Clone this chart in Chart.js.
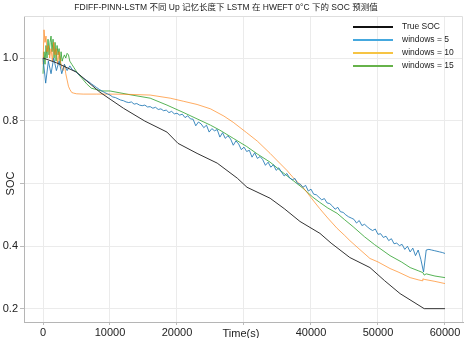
<!DOCTYPE html>
<html>
<head>
<meta charset="utf-8">
<script src="https://cdn.jsdelivr.net/npm/chart.js@4.4.1/dist/chart.umd.min.js"></script>
<style>
  html, body { margin: 0; padding: 0; background: #fff; }
</style>
</head>
<body>
<canvas id="c" width="469" height="338"></canvas>
<script>
const FONT = '"Liberation Sans", Arial, "Noto Sans CJK SC", sans-serif';
const TITLE = 'FDIFF-PINN-LSTM 不同 Up 记忆长度下 LSTM 在 HWEFT 0°C 下的 SOC 预测值';
const X_TITLE = 'Time(s)';
const Y_TITLE = 'SOC';

// tick labels
const xTicks = [0, 10000, 20000, 30000, 40000, 50000, 60000];
const yTicks = [0.2, 0.4, 0.6, 0.8, 1.0];

const labels = ['True SOC', 'windows = 5', 'windows = 10', 'windows = 15'];

// True SOC
const trueTime = [0, 2000, 5000, 8500, 12000, 15200, 18500, 20150, 23000, 26000, 29000, 30450,
  33900, 36000, 38360, 41340, 43000, 45800, 48800, 51000, 53300, 56900, 60000];
const trueSoc = [1.0, 0.985, 0.955, 0.891, 0.84, 0.799, 0.764, 0.728, 0.696, 0.665, 0.617, 0.588,
  0.553, 0.52, 0.479, 0.441, 0.41, 0.364, 0.332, 0.29, 0.249, 0.201, 0.201];

// windows = 5 (sampled every 400 s)
const w5Time = Array.from({ length: 151 }, (_, i) => i * 400);
const w5Soc = [
  1.0, 0.92, 0.99, 0.95, 1.0, 0.96, 0.99, 0.95, 0.98, 0.96,
  0.975, 0.962, 0.958, 0.95, 0.944, 0.936, 0.93, 0.925, 0.918, 0.912,
  0.906, 0.9, 0.895, 0.89, 0.886, 0.882, 0.876, 0.874, 0.87, 0.866,
  0.864, 0.86, 0.858, 0.86, 0.853, 0.855, 0.85, 0.848, 0.85, 0.844,
  0.845, 0.84, 0.843, 0.836, 0.838, 0.832, 0.834, 0.826, 0.83, 0.822,
  0.824, 0.818, 0.821, 0.81, 0.816, 0.806, 0.805, 0.784, 0.796, 0.79,
  0.778, 0.786, 0.764, 0.775, 0.768, 0.772, 0.748, 0.762, 0.744, 0.752,
  0.742, 0.722, 0.736, 0.726, 0.708, 0.716, 0.702, 0.706, 0.684, 0.698,
  0.68, 0.686, 0.676, 0.658, 0.668, 0.652, 0.66, 0.642, 0.65, 0.636,
  0.624, 0.632, 0.618, 0.612, 0.616, 0.6, 0.598, 0.588, 0.594, 0.576,
  0.582, 0.566, 0.564, 0.556, 0.548, 0.552, 0.538, 0.536, 0.528, 0.518,
  0.524, 0.51, 0.508, 0.5, 0.494, 0.49, 0.486, 0.474, 0.482, 0.466,
  0.47, 0.462, 0.455, 0.45, 0.455, 0.438, 0.44, 0.428, 0.432, 0.418,
  0.424, 0.408, 0.41, 0.402, 0.406, 0.39, 0.4, 0.382, 0.394, 0.37,
  0.388, 0.358, 0.318, 0.388, 0.39, 0.388, 0.386, 0.384, 0.382, 0.38,
  0.377
];

// windows = 10
const w10Time = [0, 150, 300, 450, 600, 800, 1000, 1200, 1400, 1600, 1800, 2000, 2200, 2400, 2600,
  2800, 3000, 3200, 3400, 3600, 3800, 4000, 4300, 4600, 5000, 6000, 8000, 10000, 13000, 16000,
  19000, 21000, 23000, 25000, 27000, 28400, 30400, 32000, 33900, 35000, 36400, 37500, 38800,
  40000, 41300, 42500, 43900, 45000, 45800, 47000, 48800, 50000, 51800, 53000, 54800, 56000,
  56600, 56700, 57000, 58500, 60000];
const w10Soc = [0.98, 1.09, 1.05, 1.07, 1.02, 1.04, 1.0, 1.03, 0.99, 1.05, 1.01, 1.03, 0.98, 1.02, 0.99,
  0.97, 0.96, 0.98, 0.95, 0.93, 0.91, 0.9, 0.89, 0.888, 0.886, 0.885, 0.885, 0.885, 0.884, 0.882,
  0.872, 0.862, 0.852, 0.838, 0.815, 0.795, 0.762, 0.735, 0.696, 0.672, 0.642, 0.615, 0.588,
  0.555, 0.52, 0.49, 0.457, 0.435, 0.418, 0.395, 0.361, 0.35, 0.329, 0.318, 0.3, 0.293,
  0.29, 0.296, 0.294, 0.288, 0.281];

// windows = 15
const w15Time = [0, 150, 300, 450, 600, 750, 900, 1050, 1200, 1350, 1500, 1650, 1800, 1950, 2100,
  2250, 2400, 2550, 2700, 2850, 3000, 3200, 3400, 3600, 3800, 4000, 4300, 4600, 5200, 5800,
  6500, 7200, 8700, 10000, 13000, 16000, 18500, 20900, 23000, 25000, 26400, 28400, 30400,
  32000, 33900, 35500, 37300, 38800, 40300, 41300, 42500, 43900, 45000, 46300, 48000, 49500,
  51800, 53500, 54800, 56000, 56700, 56900, 57200, 58500, 60000];
const w15Soc = [0.95, 1.02, 0.98, 1.04, 1.0, 1.06, 1.01, 1.05, 1.07, 1.02, 1.06, 1.0, 1.05, 0.99, 1.04,
  1.01, 1.03, 0.98, 1.02, 0.99, 1.0, 1.01, 1.0, 1.015, 1.01, 0.99, 0.98, 0.97, 0.95, 0.936,
  0.918, 0.904, 0.895, 0.895, 0.883, 0.872, 0.85, 0.827, 0.806, 0.786, 0.77, 0.744, 0.718,
  0.694, 0.668, 0.64, 0.61, 0.585, 0.556, 0.54, 0.522, 0.505, 0.485, 0.462, 0.43, 0.405,
  0.37, 0.35, 0.332, 0.322, 0.316, 0.308, 0.312, 0.305, 0.3];

const lineColors = ['#333333', 'rgba(31,119,180,0.85)', 'rgba(255,127,14,0.65)', 'rgba(44,160,44,0.8)'];
const legendColors = ['#111111', '#45a8de', '#f6c444', '#66b24a'];

const zip = (xs, ys) => xs.map((x, i) => ({ x: x, y: ys[i] }));

const series = [
  zip(trueTime, trueSoc),
  zip(w5Time, w5Soc),
  zip(w10Time, w10Soc),
  zip(w15Time, w15Soc),
];

// texts + legend inside the plot area
const overlay = {
    id: 'overlay',
    afterDraw(chart) {
        const ctx = chart.ctx;
        const a = chart.chartArea;
        const xs = chart.scales.x;
        const ys = chart.scales.y;
        ctx.save();

        // light frame on top and right
        ctx.strokeStyle = '#dedede';
        ctx.lineWidth = 1;
        ctx.beginPath();
        ctx.moveTo(a.left, a.top + 0.5);
        ctx.lineTo(a.right - 0.5, a.top + 0.5);
        ctx.lineTo(a.right - 0.5, a.bottom);
        ctx.stroke();

        ctx.fillStyle = '#222';
        ctx.textAlign = 'center';
        ctx.textBaseline = 'middle';
        ctx.font = '8.5px ' + FONT;
        ctx.fillText(TITLE, 226, 8);

        ctx.font = '11px ' + FONT;
        ctx.fillText(X_TITLE, xs.getPixelForValue(30000) - 3, 334);

        ctx.save();
        ctx.translate(11, ys.getPixelForValue(0.6));
        ctx.rotate(-Math.PI / 2);
        ctx.fillText(Y_TITLE, 0, 0);
        ctx.restore();

        // legend
        ctx.font = '8.5px ' + FONT;
        ctx.textAlign = 'left';
        chart.data.datasets.forEach((ds, i) => {
            const y = 27 + i * 13;
            ctx.strokeStyle = legendColors[i];
            ctx.lineWidth = 2;
            ctx.beginPath();
            ctx.moveTo(353, y);
            ctx.lineTo(393, y);
            ctx.stroke();
            ctx.fillStyle = '#222';
            ctx.fillText(ds.label, 402, y);
        });
        ctx.restore();
    },
};

new Chart(document.getElementById('c'), {
    type: 'line',
    data: {
        datasets: series.map((pts, i) => ({
            label: labels[i],
            data: pts,
            borderColor: lineColors[i],
            borderWidth: 1,
            pointRadius: 0,
            tension: 0,
            fill: false,
        })),
    },
    options: {
        responsive: false,
        animation: false,
        events: [],
        layout: { padding: { top: 16, right: 6, left: 0, bottom: 0 } },
        plugins: {
            legend: { display: false },
            title: { display: false },
            tooltip: { enabled: false },
        },
        scales: {
            x: {
                type: 'linear',
                min: -2836,
                max: 62690,
                afterBuildTicks: (s) => { s.ticks = xTicks.map((v) => ({ value: v })); },
                afterFit: (s) => { s.height = 16; },
                grid: { color: '#ebebeb', tickColor: '#bbbbbb', tickLength: 3 },
                border: { color: '#b5b5b5' },
                ticks: {
                    color: '#222',
                    padding: 1,
                    maxRotation: 0,
                    font: { family: FONT, size: 11 },
                    callback: (v) => (v === 30000 ? '' : String(v)),
                },
            },
            y: {
                min: 0.1585,
                max: 1.134,
                afterBuildTicks: (s) => { s.ticks = yTicks.map((v) => ({ value: v })); },
                afterFit: (s) => { s.width = 24; },
                grid: { color: '#ebebeb', tickColor: '#bbbbbb', tickLength: 4 },
                border: { color: '#b5b5b5' },
                ticks: {
                    color: '#222',
                    padding: 2,
                    font: { family: FONT, size: 11 },
                    callback: (v) => (Math.abs(v - 0.6) < 1e-6 ? '' : v.toFixed(1)),
                },
            },
        },
    },
    plugins: [overlay],
});
</script>
</body>
</html>
